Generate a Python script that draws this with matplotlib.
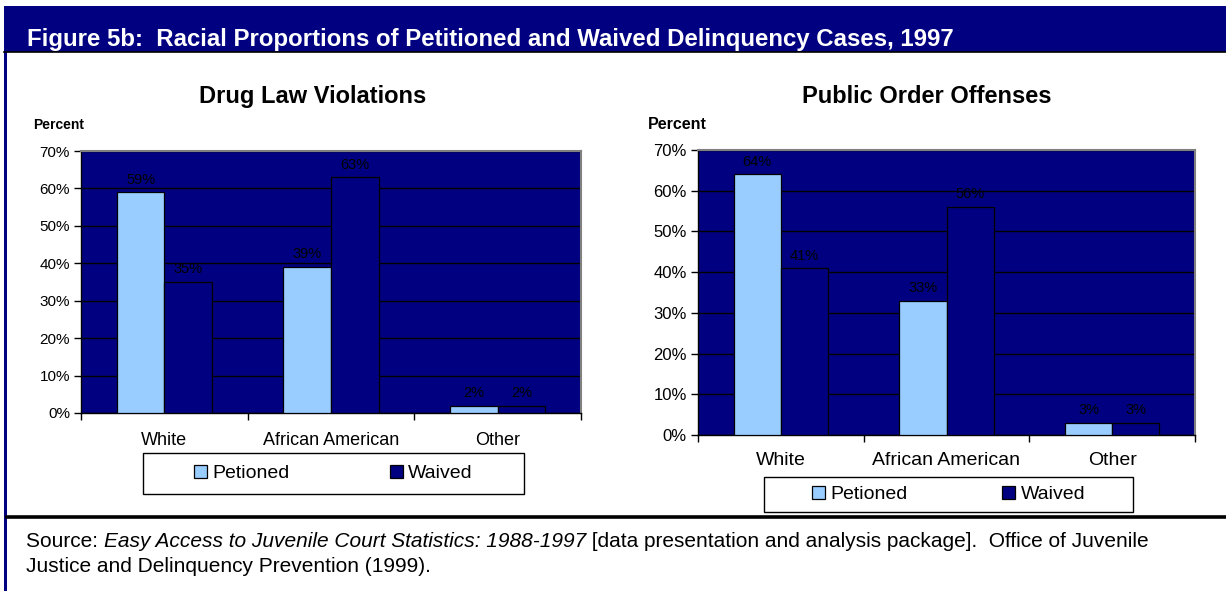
import matplotlib
matplotlib.use('Agg')
import matplotlib.pyplot as plt
from matplotlib.patches import Rectangle

plt.rcParams['font.family'] = ['Liberation Sans', 'DejaVu Sans']

# data
categories = ['White', 'African American', 'Other']
series_names = ['Petioned', 'Waived']
drug_petitioned = [59, 39, 2]
drug_waived = [35, 63, 2]
public_petitioned = [64, 33, 3]
public_waived = [41, 56, 3]
yticks = [0, 10, 20, 30, 40, 50, 60, 70]

navy = '#000080'
light = '#99CCFF'

W, H = 1226, 591
fig = plt.figure(figsize=(W / 100, H / 100), dpi=100)

# page decoration in pixel coords
bg = fig.add_axes([0, 0, 1, 1])
bg.set_xlim(0, W)
bg.set_ylim(H, 0)
bg.axis('off')
bg.add_patch(Rectangle((4, 6), W - 4, 46, color=navy, lw=0))
bg.plot([4, W], [52, 52], color='black', lw=1.2)
bg.add_patch(Rectangle((4, 52), 3, H - 52, color=navy, lw=0))
bg.plot([7, W], [517, 517], color='black', lw=2.6)
bg.text(27, 46, 'Figure 5b:  Racial Proportions of Petitioned and Waived Delinquency Cases, 1997',
        color='white', fontsize=17.3, fontweight='bold', va='baseline')

fs_src = 15
t1 = bg.text(26, 546.7, 'Source: ', fontsize=fs_src, va='baseline')
t2 = bg.annotate('Easy Access to Juvenile Court Statistics: 1988-1997', xy=(1, 0), xycoords=t1,
                 fontsize=fs_src, style='italic', va='bottom')
bg.annotate(' [data presentation and analysis package].  Office of Juvenile', xy=(1, 0), xycoords=t2,
            fontsize=fs_src, va='bottom')
bg.text(26, 571.5, 'Justice and Delinquency Prevention (1999).', fontsize=fs_src, va='baseline')


def rect(x0, y0, x1, y1):
    return [x0 / W, 1 - y1 / H, (x1 - x0) / W, (y1 - y0) / H]


def draw_chart(box, pet, wav, title, title_x, pct_x, tick_fs, cat_fs, cat_pad, leg_box, colsp):
    ax = fig.add_axes(rect(*box))
    ax.set_facecolor(navy)
    w = 0.2857
    x = list(range(len(categories)))
    b1 = ax.bar([i - w / 2 for i in x], pet, w, color=light, edgecolor='black', lw=0.9,
                label=series_names[0], zorder=3)
    b2 = ax.bar([i + w / 2 for i in x], wav, w, color=navy, edgecolor='black', lw=0.9,
                label=series_names[1], zorder=3)
    for b, vals in ((b1, pet), (b2, wav)):
        ax.bar_label(b, labels=[f'{v}%' for v in vals], padding=4, fontsize=10.5, color='black')
    ax.set_ylim(0, 70)
    ax.set_xlim(-0.5, len(categories) - 0.5)
    ax.set_yticks(yticks, labels=[f'{v}%' for v in yticks])
    ax.yaxis.grid(True, color='black', lw=1, zorder=1)
    ax.set_axisbelow(True)
    ax.set_xticks([i - 0.5 for i in range(len(categories) + 1)], labels=[])
    ax.set_xticks(x, labels=categories, minor=True)
    ax.tick_params(axis='y', length=5, width=1, pad=3, labelsize=tick_fs)
    ax.tick_params(axis='x', which='major', length=5, width=1)
    ax.tick_params(axis='x', which='minor', length=0, pad=cat_pad, labelsize=cat_fs)
    for s in ('top', 'right'):
        ax.spines[s].set_color('#808080')
        ax.spines[s].set_linewidth(1.5)
    ax.spines['left'].set_linewidth(1)
    ax.spines['bottom'].set_linewidth(1)

    bg.text(title_x, 103, title, fontsize=17, fontweight='bold', ha='center', va='baseline')
    bg.text(pct_x, 129, 'Percent', fontsize=10 if box[0] < 300 else 11.5,
            fontweight='bold', va='baseline')

    # legend frame
    lx0, ly0, lx1, ly1 = leg_box
    bg.add_patch(Rectangle((lx0, ly0), lx1 - lx0, ly1 - ly0, facecolor='white',
                           edgecolor='black', lw=1))
    cx = (lx0 + lx1) / 2 / W
    cy = 1 - (ly0 + ly1) / 2 / H
    fig.legend(handles=[b1, b2], loc='center', bbox_to_anchor=(cx, cy), ncol=2,
               frameon=False, fontsize=14, handlelength=0.67, handleheight=0.67,
               handletextpad=0.26, columnspacing=colsp, borderpad=0.2)
    return ax


draw_chart((81, 151, 581, 413), drug_petitioned, drug_waived, 'Drug Law Violations',
           313, 33, 11, 13, 14, (143, 453, 524, 494), 5.15)
draw_chart((698, 150, 1195, 435), public_petitioned, public_waived, 'Public Order Offenses',
           927, 648, 12, 14, 12, (764, 477, 1133, 512), 4.9)

fig.savefig('out.png', dpi=100)
